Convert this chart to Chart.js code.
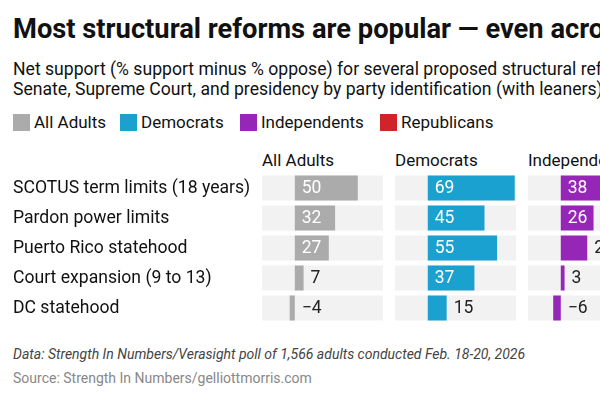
<!DOCTYPE html>
<html>
<head>
<meta charset="utf-8">
<script src="https://cdn.jsdelivr.net/npm/chart.js@4"></script>
<style>
  html, body { margin:0; padding:0; background:#fff; }
  body { width:600px; height:400px; overflow:hidden; position:relative; font-family: Roboto, "Noto Sans", sans-serif; color:#111; }
  .abs { position:absolute; white-space:nowrap; }
  #title { left:13px; top:13px; font-size:27.3px; line-height:32px; font-weight:700; color:#111; }
  #sub { left:13px; top:59px; font-size:17.6px; line-height:20px; color:#111; }
  .lg { top:114px; font-size:17px; line-height:17px; color:#111; }
  .sw { position:absolute; top:114px; width:17px; height:17px; }
  .hd { top:152px; font-size:17px; line-height:17px; color:#111; }
  #data { left:13px; top:346px; font-size:14px; line-height:16px; font-style:italic; color:#444; }
  #src { left:13px; top:370px; font-size:14px; line-height:16px; color:#888; }
  canvas { position:absolute; top:172.5px; }
</style>
</head>
<body>
<div id="title" class="abs">Most structural reforms are popular — even across party lines</div>
<div id="sub" class="abs">Net support (% support minus % oppose) for several proposed structural reforms to the<br>Senate, Supreme Court, and presidency by party identification (with leaners)</div>

<div class="sw" style="left:13px;background:#ababab"></div><div class="abs lg" style="left:34px">All Adults</div>
<div class="sw" style="left:120px;background:#1aa1cf"></div><div class="abs lg" style="left:141px">Democrats</div>
<div class="sw" style="left:240px;background:#9526b8"></div><div class="abs lg" style="left:261px">Independents</div>
<div class="sw" style="left:380px;background:#d0232a"></div><div class="abs lg" style="left:401px">Republicans</div>

<div class="abs hd" style="left:262px">All Adults</div>
<div class="abs hd" style="left:395px">Democrats</div>
<div class="abs hd" style="left:528px">Independents</div>

<canvas id="c1" width="383" height="150" style="left:0px"></canvas>
<canvas id="c2" width="121" height="150" style="left:395px"></canvas>
<canvas id="c3" width="121" height="150" style="left:528px"></canvas>

<div id="data" class="abs">Data: Strength In Numbers/Verasight poll of 1,566 adults conducted Feb. 18-20, 2026</div>
<div id="src" class="abs">Source: Strength In Numbers/gelliottmorris.com</div>

<script>
const categories = ["SCOTUS term limits (18 years)", "Pardon power limits", "Puerto Rico statehood", "Court expansion (9 to 13)", "DC statehood"];
const allAdults = [50, 32, 27, 7, -4];
const democrats = [69, 45, 55, 37, 15];
const independents = [38, 26, 21, 3, -6];
const axisMin = -26;
const axisMax = 70;

const FONT = "Roboto, 'Noto Sans', sans-serif";

const labelPlugin = {
  id: 'valLabels',
  afterDatasetsDraw(chart) {
    const ctx = chart.ctx;
    const meta = chart.getDatasetMeta(1);
    const vals = chart.data.datasets[1].data;
    ctx.save();
    ctx.font = "17.5px " + FONT;
    ctx.textBaseline = 'middle';
    ctx.textAlign = 'left';
    meta.data.forEach((el, i) => {
      const v = vals[i];
      const txt = (v < 0 ? "\u2212" + Math.abs(v) : String(v));
      let x;
      if (v >= 24) { ctx.fillStyle = '#ffffff'; x = el.base + 7; }
      else { ctx.fillStyle = '#222222'; x = Math.max(el.x, el.base) + 7; }
      ctx.fillText(txt, x, el.y + 1);
    });
    ctx.restore();
  }
};

function makeChart(id, values, color, showLabels) {
  const bg = categories.map(() => [axisMin, axisMax]);
  new Chart(document.getElementById(id), {
    type: 'bar',
    data: {
      labels: categories,
      datasets: [
        { data: bg, backgroundColor: '#f2f2f2', order: 2, grouped: false, barPercentage: 0.8333, categoryPercentage: 1 },
        { data: values, backgroundColor: color, order: 1, grouped: false, barPercentage: 0.8333, categoryPercentage: 1 }
      ]
    },
    options: {
      indexAxis: 'y',
      responsive: false,
      animation: false,
      devicePixelRatio: 1,
      layout: { padding: { left: showLabels ? 13 : 0, right: 0, top: 0, bottom: 0 } },
      plugins: { legend: { display: false }, tooltip: { enabled: false }, title: { display: false } },
      scales: {
        x: { min: axisMin, max: axisMax, display: false },
        y: {
          display: showLabels,
          grid: { display: false },
          border: { display: false },
          ticks: { crossAlign: 'far', color: '#111', font: { family: FONT, size: 17.6 }, padding: 0, labelOffset: 1 },
          afterFit(scale) {
            if (showLabels) {
              scale.width = 249;
              scale.paddingTop = 0;
              scale.paddingBottom = 0;
            }
          }
        }
      }
    },
    plugins: [labelPlugin]
  });
}

makeChart('c1', allAdults, '#ababab', true);
makeChart('c2', democrats, '#1aa1cf', false);
makeChart('c3', independents, '#9526b8', false);
</script>
</body>
</html>
